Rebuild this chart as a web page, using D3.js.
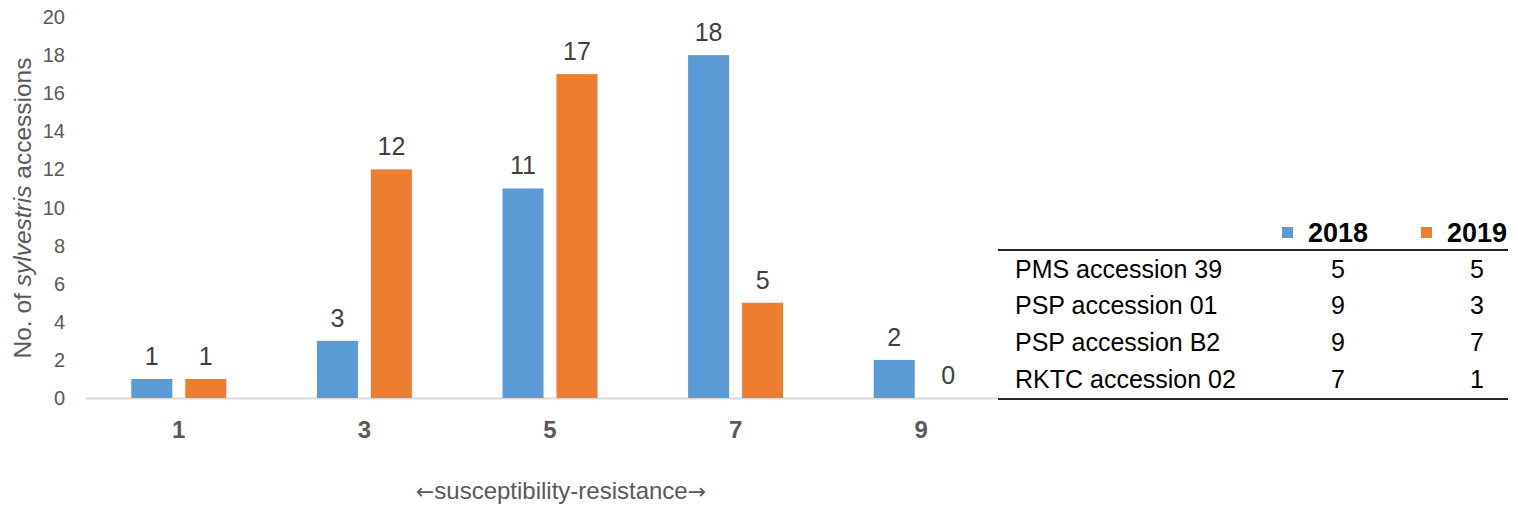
<!DOCTYPE html>
<html><head><meta charset="utf-8">
<script src="https://cdn.jsdelivr.net/npm/d3@7"></script>
<style>body{margin:0;background:#fff}svg{display:block;font-family:"Liberation Sans",Arial,sans-serif}</style>
</head><body>
<svg id="c" width="1518" height="507"></svg>
<script>
const categories = ["1","3","5","7","9"];
const seriesNames = ["2018","2019"];
const values2018 = [1,3,11,18,2];
const values2019 = [1,12,17,5,0];
const yTicks = [0,2,4,6,8,10,12,14,16,18,20];
const tableRows = ["PMS accession 39","PSP accession 01","PSP accession B2","RKTC accession 02"];
const table2018 = [5,9,9,7];
const table2019 = [5,3,7,1];
const colors = ["#5B9BD5","#ED7D31"];

const svg = d3.select("#c");
const x = d3.scaleBand().domain(categories).range([86,1014]).paddingInner(0.488).paddingOuter(0.244);
const xs = d3.scaleBand().domain(seriesNames).range([0,x.bandwidth()]).paddingInner(0.24);
const y = d3.scaleLinear().domain([0,20]).range([398,17]);

// y tick labels
svg.append("g").selectAll("text").data(yTicks).join("text")
  .attr("x",65).attr("y",d=>y(d)).attr("dy","0.35em").attr("text-anchor","end")
  .attr("font-size",20).attr("fill","#595959").text(d=>d);

// axis line
svg.append("line").attr("x1",86).attr("x2",997).attr("y1",398.5).attr("y2",398.5)
  .attr("stroke","#D9D9D9").attr("stroke-width",2);

const data = categories.map((c,i)=>({c, vals:[values2018[i],values2019[i]]}));
const g = svg.append("g").selectAll("g").data(data).join("g")
  .attr("transform",d=>`translate(${x(d.c)},0)`);
g.selectAll("rect").data(d=>d.vals.map((v,j)=>({v,s:seriesNames[j],j}))).join("rect")
  .attr("x",d=>xs(d.s)).attr("width",xs.bandwidth())
  .attr("y",d=>y(d.v)).attr("height",d=>y(0)-y(d.v)).attr("fill",d=>colors[d.j]);
g.selectAll("text").data(d=>d.vals.map((v,j)=>({v,s:seriesNames[j],j}))).join("text")
  .attr("x",d=>xs(d.s)+xs.bandwidth()/2).attr("y",d=>y(d.v)-14)
  .attr("text-anchor","middle").attr("font-size",25).attr("fill","#404040").text(d=>d.v);

// x tick labels
svg.append("g").selectAll("text").data(categories).join("text")
  .attr("x",d=>x(d)+x.bandwidth()/2).attr("y",438).attr("text-anchor","middle")
  .attr("font-size",24).attr("font-weight","bold").attr("fill","#595959").text(d=>d);

// x axis title
const xt = svg.append("text").attr("x",561).attr("y",499).attr("text-anchor","middle")
  .attr("font-size",24).attr("fill","#595959");
xt.append("tspan").attr("font-family","DejaVu Sans").attr("font-size",22).text("\u2190");
xt.append("tspan").text("susceptibility-resistance");
xt.append("tspan").attr("font-family","DejaVu Sans").attr("font-size",22).text("\u2192");

// y axis title
const yt = svg.append("text").attr("transform","translate(31,208) rotate(-90)")
  .attr("text-anchor","middle").attr("font-size",24.5).attr("fill","#595959");
yt.append("tspan").text("No. of ");
yt.append("tspan").attr("font-style","italic").text("sylvestris");
yt.append("tspan").text(" accessions");

// table
const colX = [1338,1477];
const tg = svg.append("g");
tg.append("line").attr("x1",998).attr("x2",1508).attr("y1",250).attr("y2",250).attr("stroke","#262626").attr("stroke-width",2);
tg.append("line").attr("x1",998).attr("x2",1508).attr("y1",399).attr("y2",399).attr("stroke","#262626").attr("stroke-width",2);
seriesNames.forEach((s,j)=>{
  tg.append("rect").attr("x",colX[j]-56).attr("y",227).attr("width",11).attr("height",11).attr("fill",colors[j]);
  tg.append("text").attr("x",colX[j]).attr("y",242).attr("text-anchor","middle")
    .attr("font-size",27).attr("font-weight","bold").attr("fill","#000").text(s);
});
const rowY = [278,314,351,388];
tableRows.forEach((r,i)=>{
  tg.append("text").attr("x",1015).attr("y",rowY[i]).attr("font-size",25).attr("fill","#000").text(r);
  tg.append("text").attr("x",colX[0]).attr("y",rowY[i]).attr("text-anchor","middle").attr("font-size",25).attr("fill","#000").text(table2018[i]);
  tg.append("text").attr("x",colX[1]).attr("y",rowY[i]).attr("text-anchor","middle").attr("font-size",25).attr("fill","#000").text(table2019[i]);
});
</script>
</body></html>
